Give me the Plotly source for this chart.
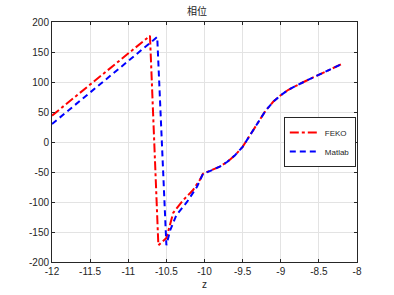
import plotly.graph_objects as go

# shared tail of both curves
tail_z = [-10.02, -9.9, -9.8, -9.7, -9.6, -9.5, -9.4, -9.3, -9.2, -9.1, -9.0, -8.9, -8.8, -8.7, -8.6, -8.5, -8.4, -8.3, -8.2]
tail_v = [-53, -47, -41, -33, -22, -8, 12, 33, 52, 67, 78, 87, 94, 100, 106, 112, 118, 124, 130]

feko_z = [-12, -10.715, -10.605, -10.5, -10.41, -10.28, -10.15, -10.06] + tail_z
feko_v = [44, 177, -172, -160, -118, -97, -80, -63] + tail_v

matlab_z = [-12, -10.715, -10.62, -10.50, -10.45, -10.37, -10.23, -10.10, -10.06] + tail_z
matlab_v = [30, 165, 175, -172, -147, -122, -100, -75, -63] + tail_v

x_ticks = [-12, -11.5, -11, -10.5, -10, -9.5, -9, -8.5, -8]
y_ticks = [-200, -150, -100, -50, 0, 50, 100, 150, 200]

fig = go.Figure()
fig.add_trace(go.Scatter(x=feko_z, y=feko_v, mode="lines", name="FEKO",
                         line=dict(color="#ff0000", width=2, dash="dashdot")))
fig.add_trace(go.Scatter(x=matlab_z, y=matlab_v, mode="lines", name="Matlab",
                         line=dict(color="#0000ff", width=2, dash="6px,4px")))

axis_common = dict(showline=True, linecolor="#262626", linewidth=1, mirror="ticks",
                   ticks="inside", ticklen=3, tickcolor="#262626", automargin=False,
                   showgrid=True, gridcolor="#e3e3e3", gridwidth=1, zeroline=False,
                   tickfont=dict(family="Liberation Sans, Arial", size=10, color="#262626"))

fig.update_layout(
    width=394, height=295,
    margin=dict(l=52, r=37, t=22, b=33),
    paper_bgcolor="white", plot_bgcolor="white",
    title=dict(text="相位", x=0.5, xanchor="center", y=0.96, yanchor="middle",
               font=dict(family="Noto Sans CJK SC", size=10, color="#262626")),
    xaxis=dict(range=[-12, -8], tickvals=x_ticks, ticktext=[str(t) for t in x_ticks],
               title=dict(text="z", standoff=4, font=dict(family="Liberation Sans, Arial", size=10, color="#262626")),
               **axis_common),
    yaxis=dict(range=[-200, 200], tickvals=y_ticks, ticktext=[str(t) for t in y_ticks],
               **axis_common),
    legend=dict(x=0.76, y=0.5, xanchor="left", yanchor="middle",
                bordercolor="#262626", borderwidth=1, bgcolor="white",
                font=dict(family="Liberation Sans, Arial", size=8, color="#262626"),
                tracegroupgap=0, itemwidth=30),
    showlegend=True,
)

fig.write_html("out.html")
